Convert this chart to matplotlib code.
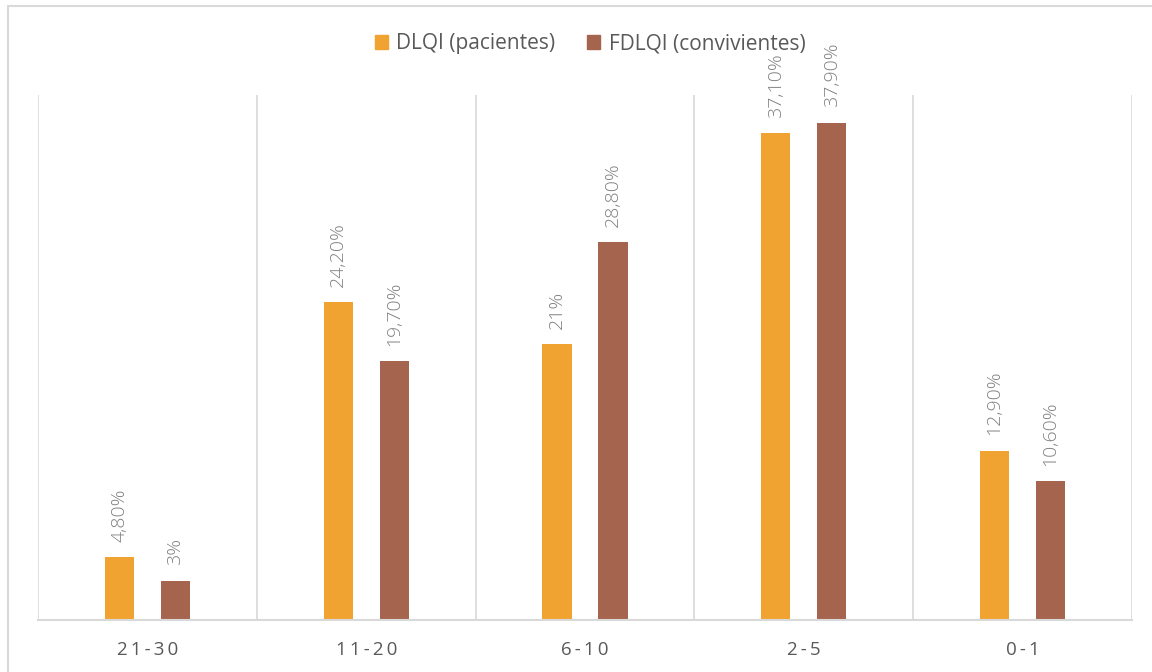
import numpy as np
import matplotlib.pyplot as plt
from matplotlib.patches import Rectangle, Patch

# score bands and share of each group (%)
categories = ["21-30", "11-20", "6-10", "2-5", "0-1"]
dlqi = [4.8, 24.2, 21.0, 37.1, 12.9]
fdlqi = [3.0, 19.7, 28.8, 37.9, 10.6]
dlqi_labels = ["4,80%", "24,20%", "21%", "37,10%", "12,90%"]
fdlqi_labels = ["3%", "19,70%", "28,80%", "37,90%", "10,60%"]

orange = "#F0A331"
brown = "#A5644E"
grey_txt = "#808080"

plt.rcParams["font.family"] = ["Open Sans", "DejaVu Sans"]

fig = plt.figure(figsize=(11.52, 6.72), dpi=100)
ax = fig.add_axes([38 / 1152, 52 / 672, 1094 / 1152, 525 / 672])

# outer chart border (clipped on the right and bottom)
fig.patches.append(Rectangle((8 / 1152, -0.05), 1.2, (672 - 6) / 672 + 0.05,
                             transform=fig.transFigure, fill=False,
                             edgecolor="#D9D9D9", linewidth=1.5))

x = np.arange(len(categories))
w = 0.133
off = 0.128
b1 = ax.bar(x - off, dlqi, w, color=orange)
b2 = ax.bar(x + off, fdlqi, w, color=brown)

for bars, labels in ((b1, dlqi_labels), (b2, fdlqi_labels)):
    for bar, lab in zip(bars, labels):
        ax.annotate(lab, (bar.get_x() + bar.get_width() / 2, bar.get_height()),
                    xytext=(0, 11), textcoords="offset points",
                    rotation=90, ha="center", va="bottom",
                    fontsize=14, fontweight="light", color=grey_txt)

ax.set_xlim(-0.5, len(categories) - 0.5)
ax.set_ylim(0, 40)
ax.set_yticks([])

# category separators
for b in np.arange(-0.5, len(categories), 1.0):
    ax.axvline(b, color="#D9D9D9", linewidth=1.2, zorder=0)

spaced = ["\u2009".join(c) for c in categories]
ax.set_xticks(x)
ax.set_xticklabels(spaced, fontsize=13.5, color="#595959")
ax.tick_params(axis="x", length=0, pad=15)

for s in ("top", "left", "right"):
    ax.spines[s].set_visible(False)
ax.spines["bottom"].set_color("#D9D9D9")
ax.spines["bottom"].set_linewidth(1.5)

handles = [Patch(color=orange, label="DLQI (pacientes)"),
           Patch(color=brown, label="FDLQI (convivientes)")]
fig.legend(handles=handles, loc="center", bbox_to_anchor=(590 / 1152, 1 - 44 / 672),
           ncol=2, frameon=False, fontsize=15, labelcolor="#595959",
           handlelength=0.65, handleheight=0.65, handletextpad=0.4,
           columnspacing=1.5)

fig.savefig("out.png", dpi=100)
